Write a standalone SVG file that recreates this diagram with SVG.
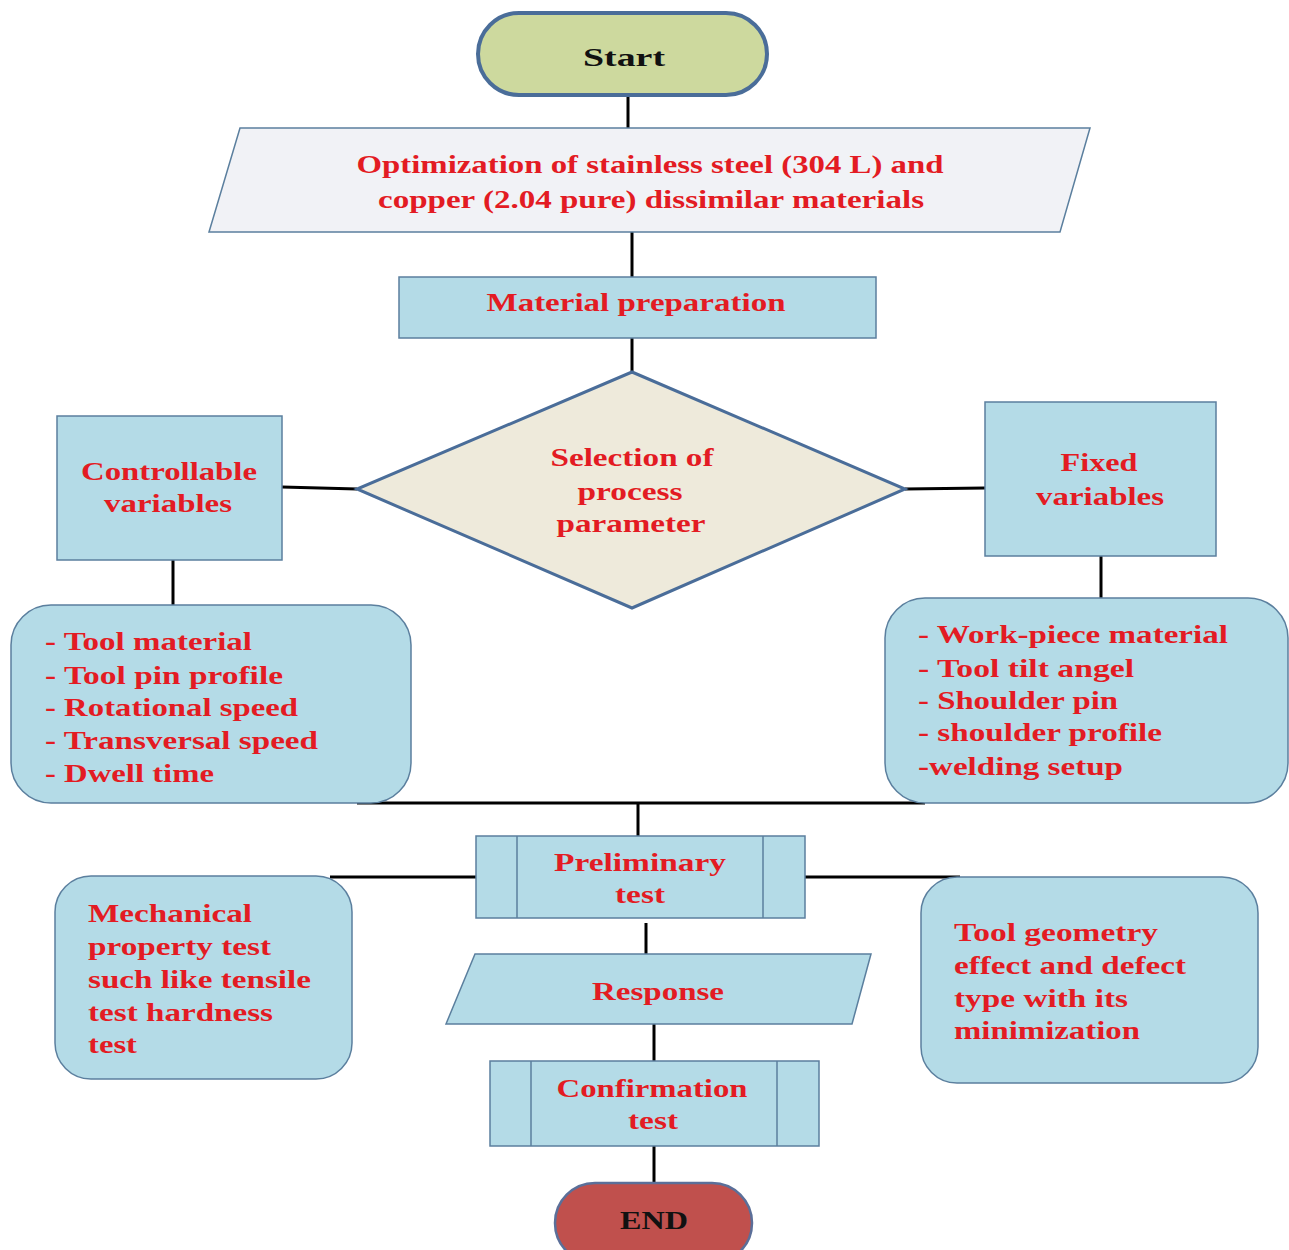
<svg xmlns="http://www.w3.org/2000/svg" width="1289" height="1250" viewBox="0 0 1289 1250">
<style>
.t{font-family:"Liberation Serif","Times New Roman",serif;font-weight:bold;font-size:26px;fill:#e31b23}
.c{text-anchor:middle}
.k{fill:#111}
.box{fill:#b4dbe7;stroke:#5b7f9e;stroke-width:1.5}
.ln{stroke:#000;stroke-width:3;fill:none}
</style>
<rect width="1289" height="1250" fill="#fff"/>
<g id="connectors">
<line class="ln" x1="628" y1="95" x2="628" y2="128"/>
<line class="ln" x1="632" y1="232" x2="632" y2="277"/>
<line class="ln" x1="632" y1="338" x2="632" y2="372"/>
<line class="ln" x1="282" y1="487" x2="357" y2="489"/>
<line class="ln" x1="905" y1="489" x2="985" y2="488"/>
<line class="ln" x1="173" y1="560" x2="173" y2="605"/>
<line class="ln" x1="1101" y1="556" x2="1101" y2="598"/>
<line class="ln" x1="357" y1="803" x2="925" y2="803"/>
<line class="ln" x1="638" y1="803" x2="638" y2="836"/>
<line class="ln" x1="330" y1="877" x2="476" y2="877"/>
<line class="ln" x1="805" y1="877" x2="960" y2="877"/>
<line class="ln" x1="646" y1="923" x2="646" y2="954"/>
<line class="ln" x1="654" y1="1024" x2="654" y2="1061"/>
<line class="ln" x1="654" y1="1146" x2="654" y2="1183"/>
</g>
<g id="start">
<rect x="478" y="13" width="289" height="82" rx="41" fill="#cdd99e" stroke="#4a6d99" stroke-width="4"/>
<text class="t c k" x="624" y="66" font-size="31" textLength="82" lengthAdjust="spacingAndGlyphs">Start</text>
</g>
<g id="objective">
<polygon points="240,128 1090,128 1060,232 209,232" fill="#f1f2f6" stroke="#5b7f9e" stroke-width="1.5"/>
<text class="t c" x="650" y="173" textLength="587" lengthAdjust="spacingAndGlyphs">Optimization of stainless steel (304 L) and</text>
<text class="t c" x="651" y="208" textLength="546" lengthAdjust="spacingAndGlyphs">copper (2.04 pure) dissimilar materials</text>
</g>
<g id="material-preparation">
<rect class="box" x="399" y="277" width="477" height="61"/>
<text class="t c" x="636" y="311" textLength="299" lengthAdjust="spacingAndGlyphs">Material preparation</text>
</g>
<g id="selection">
<polygon points="632,372 905,489 632,608 357,489" fill="#eeeadb" stroke="#4a6d99" stroke-width="3"/>
<text class="t c" x="632" y="466" textLength="163" lengthAdjust="spacingAndGlyphs">Selection of</text>
<text class="t c" x="630" y="500" textLength="105" lengthAdjust="spacingAndGlyphs">process</text>
<text class="t c" x="631" y="532" textLength="149" lengthAdjust="spacingAndGlyphs">parameter</text>
</g>
<g id="controllable">
<rect class="box" x="57" y="416" width="225" height="144"/>
<text class="t c" x="169" y="480" textLength="176" lengthAdjust="spacingAndGlyphs">Controllable</text>
<text class="t c" x="168" y="512" textLength="128" lengthAdjust="spacingAndGlyphs">variables</text>
</g>
<g id="fixed">
<rect class="box" x="985" y="402" width="231" height="154"/>
<text class="t c" x="1099" y="471" textLength="77" lengthAdjust="spacingAndGlyphs">Fixed</text>
<text class="t c" x="1100" y="505" textLength="128" lengthAdjust="spacingAndGlyphs">variables</text>
</g>
<g id="controllable-list">
<rect class="box" x="11" y="605" width="400" height="198" rx="40"/>
<text class="t" x="45" y="650" textLength="207" lengthAdjust="spacingAndGlyphs">- Tool material</text>
<text class="t" x="45" y="684" textLength="238" lengthAdjust="spacingAndGlyphs">- Tool pin profile</text>
<text class="t" x="45" y="716" textLength="253" lengthAdjust="spacingAndGlyphs">- Rotational speed</text>
<text class="t" x="45" y="749" textLength="273" lengthAdjust="spacingAndGlyphs">- Transversal speed</text>
<text class="t" x="45" y="782" textLength="169" lengthAdjust="spacingAndGlyphs">- Dwell time</text>
</g>
<g id="fixed-list">
<rect class="box" x="885" y="598" width="403" height="205" rx="40"/>
<text class="t" x="918" y="643" textLength="310" lengthAdjust="spacingAndGlyphs">- Work-piece material</text>
<text class="t" x="918" y="677" textLength="216" lengthAdjust="spacingAndGlyphs">- Tool tilt angel</text>
<text class="t" x="918" y="709" textLength="200" lengthAdjust="spacingAndGlyphs">- Shoulder pin</text>
<text class="t" x="918" y="741" textLength="244" lengthAdjust="spacingAndGlyphs">- shoulder profile</text>
<text class="t" x="918" y="775" textLength="205" lengthAdjust="spacingAndGlyphs">-welding setup</text>
</g>
<g id="preliminary">
<rect class="box" x="476" y="836" width="329" height="82"/>
<line x1="517" y1="836" x2="517" y2="918" stroke="#5b7f9e" stroke-width="1.5"/>
<line x1="763" y1="836" x2="763" y2="918" stroke="#5b7f9e" stroke-width="1.5"/>
<text class="t c" x="640" y="871" textLength="172" lengthAdjust="spacingAndGlyphs">Preliminary</text>
<text class="t c" x="640" y="903" textLength="50" lengthAdjust="spacingAndGlyphs">test</text>
</g>
<g id="mechanical">
<rect class="box" x="55" y="876" width="297" height="203" rx="36"/>
<text class="t" x="88" y="922" textLength="164" lengthAdjust="spacingAndGlyphs">Mechanical</text>
<text class="t" x="88" y="955" textLength="183" lengthAdjust="spacingAndGlyphs">property test</text>
<text class="t" x="88" y="988" textLength="223" lengthAdjust="spacingAndGlyphs">such like tensile</text>
<text class="t" x="88" y="1021" textLength="185" lengthAdjust="spacingAndGlyphs">test hardness</text>
<text class="t" x="88" y="1053" textLength="49" lengthAdjust="spacingAndGlyphs">test</text>
</g>
<g id="tool-geometry">
<rect class="box" x="921" y="877" width="337" height="206" rx="36"/>
<text class="t" x="954" y="941" textLength="204" lengthAdjust="spacingAndGlyphs">Tool geometry</text>
<text class="t" x="954" y="974" textLength="232" lengthAdjust="spacingAndGlyphs">effect and defect</text>
<text class="t" x="954" y="1007" textLength="174" lengthAdjust="spacingAndGlyphs">type with its</text>
<text class="t" x="954" y="1039" textLength="186" lengthAdjust="spacingAndGlyphs">minimization</text>
</g>
<g id="response">
<polygon class="box" points="475,954 871,954 852,1024 446,1024"/>
<text class="t c" x="658" y="1000" textLength="132" lengthAdjust="spacingAndGlyphs">Response</text>
</g>
<g id="confirmation">
<rect class="box" x="490" y="1061" width="329" height="85"/>
<line x1="531" y1="1061" x2="531" y2="1146" stroke="#5b7f9e" stroke-width="1.5"/>
<line x1="777" y1="1061" x2="777" y2="1146" stroke="#5b7f9e" stroke-width="1.5"/>
<text class="t c" x="652" y="1097" textLength="191" lengthAdjust="spacingAndGlyphs">Confirmation</text>
<text class="t c" x="653" y="1129" textLength="50" lengthAdjust="spacingAndGlyphs">test</text>
</g>
<g id="end">
<rect x="555" y="1183" width="197" height="80" rx="40" fill="#c0504d" stroke="#5b6f99" stroke-width="2.5"/>
<text class="t c k" x="654" y="1229" textLength="68" lengthAdjust="spacingAndGlyphs">END</text>
</g>
</svg>
